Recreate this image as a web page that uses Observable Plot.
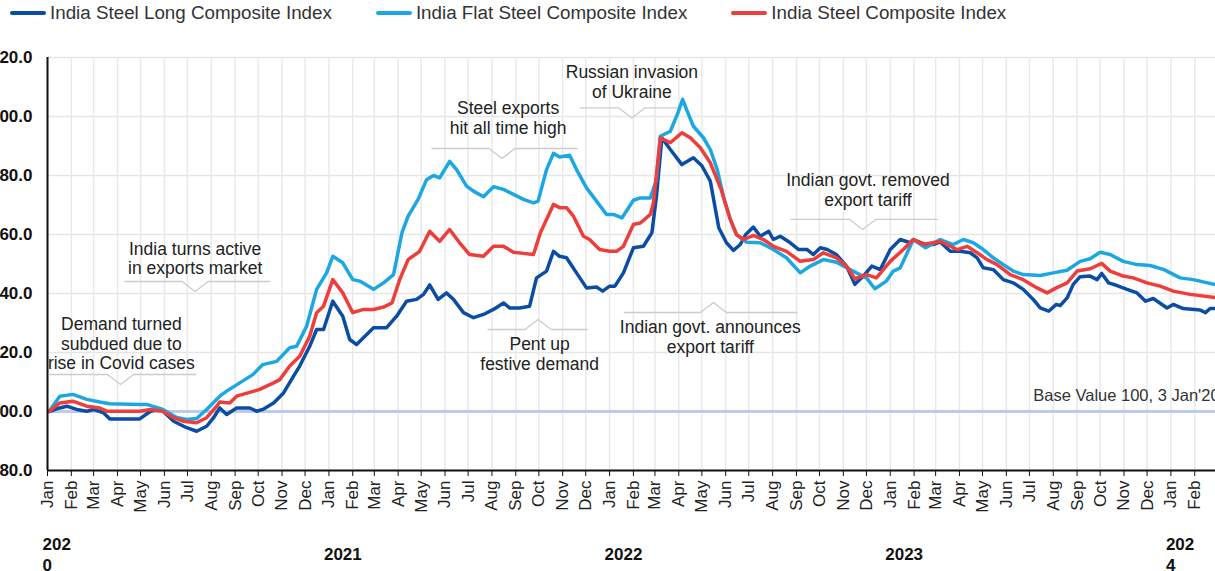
<!DOCTYPE html>
<html><head><meta charset="utf-8">
<script src="https://cdn.jsdelivr.net/npm/d3@7"></script>
<script src="https://cdn.jsdelivr.net/npm/@observablehq/plot@0.6"></script>
<style>
html,body{margin:0;padding:0;background:#fff;}
body{width:1215px;height:571px;overflow:hidden;font-family:"Liberation Sans",Arial,sans-serif;}
#legend{height:25px;display:flex;align-items:center;padding-left:10px;font-size:18.8px;color:#333;white-space:nowrap;}
.item{display:flex;align-items:center;margin-right:44px;}
.sw{width:36px;height:4px;border-radius:2px;margin-right:4px;}
#chart{width:1215px;height:546px;overflow:hidden;}
#chart svg{overflow:hidden;}
</style></head><body>
<div id="legend"></div><div id="chart"></div>
<script>
const seriesNames = ["India Steel Long Composite Index", "India Flat Steel Composite Index", "India Steel Composite Index"];
const seriesColors = ["#0a4da3", "#1ba7e1", "#ee3d3a"];

const longSeries = [
["2020-01-03",100],["2020-01-17",101.2],["2020-01-26",101.8],["2020-02-08",100.7],["2020-02-21",100.1],["2020-03-01",100.7],
["2020-03-14",99.5],["2020-03-22",97.5],["2020-04-30",97.5],["2020-05-14",100.1],["2020-05-27",100.9],["2020-06-13",96.7],
["2020-06-30",94.5],["2020-07-13",93.3],["2020-07-26",95],["2020-08-04",97.9],["2020-08-12",101.2],["2020-08-21",99],
["2020-09-03",101.2],["2020-09-20",101.2],["2020-09-29",100.1],["2020-10-07",100.7],["2020-10-21",102.9],["2020-11-03",106.3],
["2020-11-16",112],["2020-11-24",115.4],["2020-12-07",122.1],["2020-12-16",127.8],["2020-12-25",127.8],["2021-01-06",137.4],
["2021-01-19",132.3],["2021-01-28",124.4],["2021-02-06",122.7],["2021-02-28",128.4],["2021-03-17",128.4],["2021-03-30",132.3],
["2021-04-12",137.4],["2021-04-25",138],["2021-05-04",139.7],["2021-05-12",142.9],["2021-05-23",138],["2021-06-03",140.2],
["2021-06-12",138],["2021-06-25",133.5],["2021-07-08",131.8],["2021-07-21",132.9],["2021-08-03",134.6],["2021-08-16",136.8],
["2021-08-24",135.1],["2021-09-06",135.1],["2021-09-19",135.7],["2021-09-28",145.3],["2021-10-11",147.6],["2021-10-20",154.3],
["2021-10-28",152.6],["2021-11-06",152.1],["2021-11-19",147],["2021-12-02",141.9],["2021-12-15",142.2],["2021-12-23",140.8],
["2022-01-01",142.5],["2022-01-08",142.5],["2022-01-19",147],["2022-02-01",155.5],["2022-02-14",156],["2022-02-25",160.6],
["2022-03-03",173],["2022-03-10",192.8],["2022-03-21",188.8],["2022-04-05",183.7],["2022-04-20",186],["2022-05-01",183.3],
["2022-05-12",178.1],["2022-05-23",162.3],["2022-06-02",157.2],["2022-06-11",154.6],["2022-06-20",156.6],["2022-06-27",160],
["2022-07-07",162.5],["2022-07-16",159.4],["2022-07-27",161.1],["2022-08-02",158.3],["2022-08-11",159.4],["2022-08-24",157.2],
["2022-09-04",154.9],["2022-09-15",154.9],["2022-09-23",153.2],["2022-10-02",155.5],["2022-10-11",154.9],["2022-10-23",153.2],
["2022-11-05",149.3],["2022-11-16",143.1],["2022-11-27",145.9],["2022-12-08",149.3],["2022-12-19",148.1],["2023-01-01",154.9],
["2023-01-14",158.3],["2023-01-27",157.2],["2023-01-31",158.3],["2023-02-16",156.6],["2023-02-26",156.6],["2023-03-07",157.5],
["2023-03-20",154.3],["2023-04-02",154.3],["2023-04-15",153.8],["2023-04-24",152.1],["2023-05-02",148.7],["2023-05-15",148.1],
["2023-05-28",144.7],["2023-06-10",143.6],["2023-06-23",141.4],["2023-07-06",138],["2023-07-15",135.1],["2023-07-26",134],
["2023-08-05",136.3],["2023-08-10",135.9],["2023-08-19",138.5],["2023-08-27",143.1],["2023-09-05",145.7],["2023-09-18",145.9],
["2023-09-27",144.7],["2023-10-03",146.8],["2023-10-12",143.6],["2023-10-23",142.7],["2023-11-05",141.4],["2023-11-18",140.2],
["2023-11-29",137.4],["2023-12-09",138.3],["2023-12-27",135.1],["2024-01-04",136.3],["2024-01-17",134.9],["2024-02-08",134.4],
["2024-02-15",133.5],["2024-02-21",134.9],["2024-02-28",134.9]
];

const flatSeries = [
["2020-01-03",100],["2020-01-17",105.2],["2020-02-03",105.8],["2020-02-21",104.1],["2020-03-09",103.2],["2020-03-22",102.6],
["2020-04-30",102.4],["2020-05-09",102.4],["2020-05-30",100.7],["2020-06-17",98],["2020-06-30",97.3],["2020-07-13",97.6],
["2020-07-26",100.7],["2020-08-12",105.2],["2020-08-21",106.9],["2020-09-07",109.7],["2020-09-24",112.5],["2020-10-07",115.9],
["2020-10-25",117],["2020-11-11",121.6],["2020-11-20",122.1],["2020-12-03",128.9],["2020-12-16",141.4],["2020-12-29",147],
["2021-01-06",152.6],["2021-01-19",150.4],["2021-02-01",144.7],["2021-02-10",144.2],["2021-02-28",141.4],["2021-03-13",143.6],
["2021-03-26",146.4],["2021-04-06",160.6],["2021-04-14",166.2],["2021-04-27",171.9],["2021-05-08",178.6],["2021-05-17",180],
["2021-05-25",179.2],["2021-06-07",184.8],["2021-06-16",182],["2021-06-29",176.4],["2021-07-08",174.7],["2021-07-21",172.8],
["2021-08-03",176.2],["2021-08-16",175.3],["2021-08-29",173.6],["2021-09-11",171.9],["2021-09-24",170.7],["2021-09-30",171.3],
["2021-10-11",182],["2021-10-20",187.5],["2021-10-28",186.3],["2021-11-10",186.9],["2021-11-19",182],["2021-12-02",175.8],
["2021-12-15",171.3],["2021-12-28",166.8],["2022-01-06",166.8],["2022-01-17",165.6],["2022-02-01",171.6],["2022-02-10",172.4],
["2022-02-23",172.4],["2022-03-03",178.6],["2022-03-08",193.3],["2022-03-21",195],["2022-03-31",201.3],["2022-04-06",205.8],
["2022-04-11",202.4],["2022-04-20",196.7],["2022-05-03",192.8],["2022-05-12",188.8],["2022-05-21",182],["2022-05-30",171.9],
["2022-06-07",165.1],["2022-06-15",160],["2022-06-28",157.4],["2022-07-16",157.2],["2022-08-02",154.9],["2022-08-19",152.1],
["2022-09-06",147],["2022-09-19",149.3],["2022-10-06",151.5],["2022-10-23",150.6],["2022-11-10",148.1],["2022-11-18",147],
["2022-12-01",145.3],["2022-12-12",141.6],["2022-12-27",144.2],["2023-01-05",147.6],["2023-01-14",148.7],["2023-01-18",150.9],
["2023-01-31",158.3],["2023-02-16",155.5],["2023-03-07",158.3],["2023-03-24",156.6],["2023-04-06",158.3],["2023-04-19",157.2],
["2023-05-02",154.9],["2023-05-15",152.1],["2023-05-28",149.8],["2023-06-10",147.6],["2023-06-23",146.4],["2023-07-15",146.1],
["2023-08-01",147],["2023-08-19",147.9],["2023-09-05",150.9],["2023-09-18",151.8],["2023-10-01",154],["2023-10-14",153.2],
["2023-10-31",150.9],["2023-11-18",149.8],["2023-12-05",149.5],["2023-12-23",148.1],["2024-01-13",145.3],["2024-01-30",144.7],
["2024-02-28",143]
];

const compositeSeries = [
["2020-01-03",100],["2020-01-17",102.9],["2020-02-03",103.5],["2020-02-21",101.8],["2020-03-09",101.2],["2020-03-18",100.1],
["2020-04-30",100.1],["2020-05-14",100.7],["2020-05-30",100.1],["2020-06-13",97.9],["2020-06-26",96.7],["2020-07-13",96.2],
["2020-07-26",97.9],["2020-08-08",101.8],["2020-08-12",103.2],["2020-08-25",102.9],["2020-09-03",105.2],["2020-09-20",106.5],
["2020-10-03",107.5],["2020-10-21",109.7],["2020-10-29",110.8],["2020-11-11",115.4],["2020-11-24",118.7],["2020-12-07",125.5],
["2020-12-16",133.5],["2020-12-25",135.7],["2021-01-06",144.7],["2021-01-19",140.2],["2021-02-01",133.5],["2021-02-15",134.6],
["2021-02-28",134.6],["2021-03-13",135.4],["2021-03-24",136.8],["2021-04-03",144.7],["2021-04-14",151.5],["2021-04-29",154.3],
["2021-05-12",161.1],["2021-05-25",157.7],["2021-06-07",161.7],["2021-06-20",157.2],["2021-07-03",153.2],["2021-07-21",152.6],
["2021-08-03",156],["2021-08-16",156],["2021-08-29",154],["2021-09-11",153.6],["2021-09-24",153.2],["2021-10-03",160.6],
["2021-10-20",170.2],["2021-10-28",169.1],["2021-11-06",169.1],["2021-11-15",166.2],["2021-11-28",159.4],["2021-12-06",158.3],
["2021-12-19",154.9],["2022-01-01",154.3],["2022-01-10",154.3],["2022-01-19",156],["2022-02-01",163.4],["2022-02-10",163.9],
["2022-02-23",166.8],["2022-02-27",170.7],["2022-03-08",192.8],["2022-03-21",191.1],["2022-04-05",194.5],["2022-04-16",192.8],
["2022-04-29",189.4],["2022-05-12",184.3],["2022-05-26",175.3],["2022-06-07",165.1],["2022-06-15",160],["2022-06-24",158.3],
["2022-07-07",159.7],["2022-07-20",158.3],["2022-08-02",156],["2022-08-19",154.3],["2022-09-06",150.9],["2022-09-23",151.5],
["2022-10-06",153.8],["2022-10-23",152.1],["2022-11-05",149.3],["2022-11-16",145],["2022-12-01",146.4],["2022-12-14",145.3],
["2023-01-01",150.9],["2023-01-18",154.9],["2023-01-31",158.3],["2023-02-13",156.6],["2023-03-07",157.7],["2023-03-29",154.9],
["2023-04-11",156],["2023-04-24",153.8],["2023-05-07",151.5],["2023-05-20",149.8],["2023-06-06",146.4],["2023-06-23",144.7],
["2023-07-11",141.9],["2023-07-24",140.2],["2023-08-05",141.9],["2023-08-19",143.6],["2023-09-01",147.6],["2023-09-18",148.4],
["2023-10-03",150.2],["2023-10-14",147.6],["2023-10-31",145.9],["2023-11-13",145.3],["2023-12-01",143.6],["2023-12-18",142.5],
["2024-01-04",140.8],["2024-01-26",139.7],["2024-02-28",138.6]
];

const yTicks = [80, 100, 120, 140, 160, 180, 200, 220];
const yearLabels = ["202\n0", "2021", "2022", "2023", "202\n4"];
const yearDates = ["2020-01-01", "2021-01-01", "2022-01-01", "2023-01-01", "2024-01-01"];
const baseValue = 100;
const baseLabel = "Base Value 100, 3 Jan'20";
const baseLabelDate = "2023-07-06";
const baseLabelValue = 105.2;

const annoText = ["Demand turned\nsubdued due to\nrise in Covid cases", "India turns active\nin exports market", "Steel exports\nhit all time high", "Russian invasion\nof Ukraine", "Pent up\nfestive demand", "Indian govt. announces\nexport tariff", "Indian govt. removed\nexport tariff"];
const annoDate = ["2020-04-06", "2020-07-11", "2021-08-22", "2022-01-30", "2021-10-02", "2022-05-12", "2022-12-03"];
const annoValue = [123.05, 152.0, 199.66, 211.7, 119.5, 125.4, 175.25];
const bracketStart = ["2020-01-04", "2020-04-11", "2021-05-15", "2021-11-24", "2021-07-27", "2022-01-20", "2022-08-25"];
const bracketEnd = ["2020-07-12", "2020-10-16", "2021-11-20", "2022-03-30", "2021-12-03", "2022-09-02", "2023-03-03"];
const bracketNotch = ["2020-04-05", "2020-07-11", "2021-08-14", "2022-01-30", "2021-09-30", "2022-05-16", "2022-11-26"];
const bracketValue = [112.54, 144.07, 189.15, 202.9, 127.8, 133.56, 165.1];
const bracketDir = [-1, -1, -1, -1, 1, 1, -1];

// legend
const legend = document.getElementById("legend");
seriesNames.forEach((n, i) => {
  const it = document.createElement("div"); it.className = "item";
  const sw = document.createElement("div"); sw.className = "sw"; sw.style.background = seriesColors[i];
  const tx = document.createElement("span"); tx.textContent = n;
  it.appendChild(sw); it.appendChild(tx); legend.appendChild(it);
});

const D = s => new Date(s + "T00:00:00Z");
const rows = [];
[longSeries, flatSeries, compositeSeries].forEach((s, i) => s.forEach(([d, v]) => rows.push({series: seriesNames[i], date: D(d), value: v})));

const annos = annoText.map((t, i) => ({text: t, date: D(annoDate[i]), value: annoValue[i]}));
const NOTCH_DAYS = 17, NOTCH_DEPTH = 3.4;
const brackets = [];
bracketStart.forEach((s, i) => {
  const n = D(bracketNotch[i]), y = bracketValue[i];
  const off = k => new Date(n.getTime() + k * NOTCH_DAYS * 864e5);
  [[D(s), y], [off(-1), y], [n, y + bracketDir[i] * NOTCH_DEPTH], [off(1), y], [D(bracketEnd[i]), y]]
    .forEach(([x, v]) => brackets.push({id: i, date: x, value: v}));
});
const years = yearLabels.map((t, i) => ({text: t, date: D(yearDates[i])}));
const xStart = D("2020-01-01"), xEnd = D("2024-02-28");
const months = d3.utcMonths(xStart, xEnd);

const chart = Plot.plot({
  width: 1215, height: 546,
  marginLeft: 47, marginRight: 0, marginTop: 32, marginBottom: 101,
  x: {type: "utc", domain: [xStart, xEnd]},
  y: {domain: [80, 220]},
  color: {domain: seriesNames, range: seriesColors},
  style: {fontFamily: "'Liberation Sans', Arial, sans-serif", background: "#fff", overflow: "hidden"},
  marks: [
    Plot.gridY(yTicks, {stroke: "#e6e6e6", strokeOpacity: 1, strokeWidth: 1.5}),
    Plot.gridX(months, {stroke: "#e9e9e9", strokeOpacity: 1, strokeWidth: 1.5}),
    Plot.ruleY([baseValue], {stroke: "#bccaee", strokeWidth: 3}),
    Plot.text([baseLabel], {x: () => D(baseLabelDate), y: () => baseLabelValue, textAnchor: "start", fontSize: 16.5, fill: "#333"}),
    Plot.line(brackets, {x: "date", y: "value", z: "id", stroke: "#cccccc", strokeWidth: 1.3}),
    Plot.text(annos, {x: "date", y: "value", text: "text", fontSize: 17.5, fill: "#222", lineHeight: 1.12, lineAnchor: "middle"}),
    Plot.line(rows, {x: "date", y: "value", z: "series", stroke: "series", strokeWidth: 3.5, strokeLinejoin: "round"}),
    Plot.ruleX([xStart], {stroke: "#111", strokeWidth: 2}),
    Plot.ruleY([80], {stroke: "#111", strokeWidth: 2}),
    Plot.axisY(yTicks, {tickFormat: d => d.toFixed(1), tickSize: 0, tickPadding: 15, fontSize: 17, fontWeight: "bold", fill: "#111", label: null}),
    Plot.axisX(months, {tickFormat: d3.utcFormat("%b"), tickRotate: -90, tickSize: 6, tickPadding: 4, fontSize: 17, fill: "#222", stroke: "#111", label: null}),
    Plot.text(years, {x: "date", text: "text", frameAnchor: "bottom", dy: 83, dx: -5, textAnchor: "start", lineAnchor: "middle", lineHeight: 1.25, fontSize: 17, fontWeight: "bold", fill: "#111"})
  ]
});
document.getElementById("chart").appendChild(chart);
</script>
</body></html>
